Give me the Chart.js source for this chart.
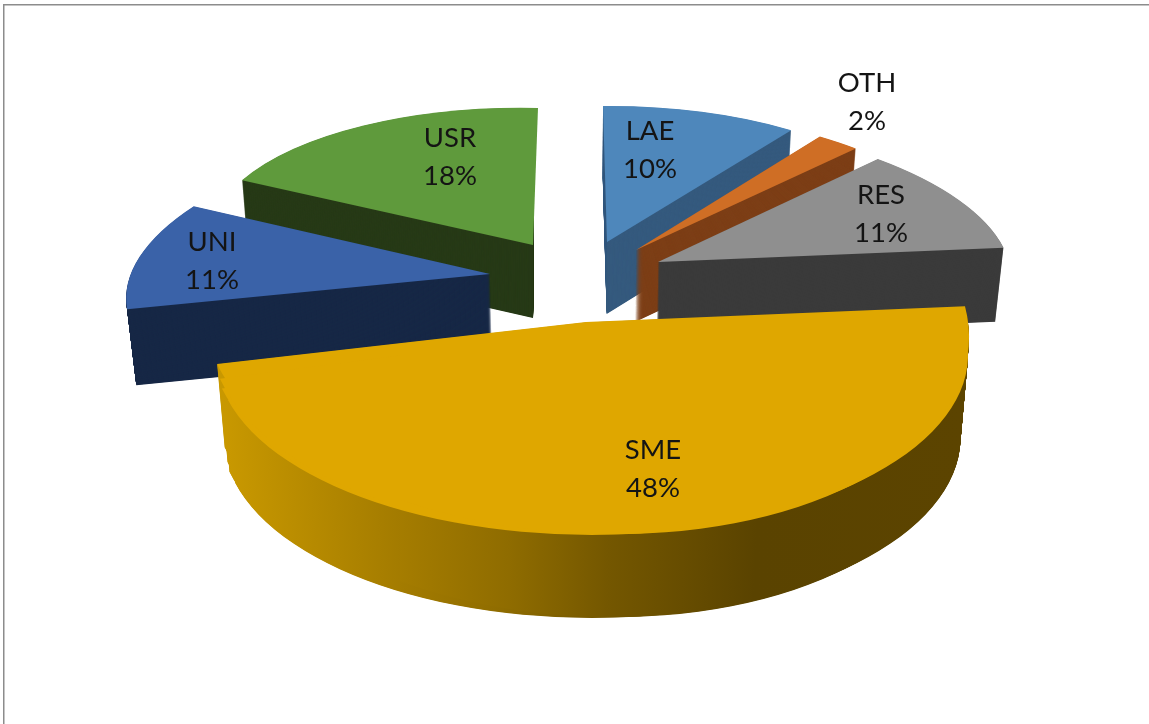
<!DOCTYPE html>
<html>
<head>
<meta charset="utf-8">
<title>Exploded 3D pie</title>
<style>
html,body{margin:0;padding:0;background:#fff;overflow:hidden}
canvas{display:block}
</style>
<script src="https://cdn.jsdelivr.net/npm/chart.js@4/dist/chart.umd.min.js"></script>
</head>
<body>
<canvas id="c" width="1149" height="724"></canvas>
<script>
// --- data
const categories = ['LAE', 'OTH', 'RES', 'SME', 'UNI', 'USR'];
const shares = [10, 2, 11, 48, 11, 18];

// --- colours
const faceColors = ['#4e87bb', '#cf6e25', '#8f8f8f', '#dfa700', '#3a62a8', '#5f9a3c'];
const wallColors = ['#355a7e', '#7d3f17', '#3b3b3b', null, '#172846', '#273a17'];
const smeWallStops = [[222, '#c89800'], [400, '#a37b00'], [500, '#8f6c00'], [600, '#745700'], [750, '#5a4300'], [968, '#5c4400']];

// --- view: how each slice's flat circle projects to the tilted 3D picture
// each slice has one or more projections: [pivotX, pivotY, uX, uY, vX, vY, wallDepth, optional max x]
const sliceViews = [
  [[607, 242, 319, -3, 4, 136, 72]],
  [[636, 250, 350, 5, 27, 144, 72]],
  [[658, 262, 352, 4, 29, 145, 74]],
  [[592, 355, 376, 0, 0, 180, 83],
   [586, 322, 383, 11, 8, 212, 83],
   [589, 340, 379, 0, 0, 195, 83, 400],
   [588, 331, 380, 3, 0, 204, 83, 400]],
  [[490, 274, 358, 3, -65, 153, 76]],
  [[533, 245, 324, 7, -5, 137, 73]]
];
const paintOrder = [5, 4, 0, 1, 2, 3];
const vanishX = [590, 590, 590, 592, 590, 533];
const wallClipRight = [null, null, null, null, null, 534];
const wallShrink = 0.02;

// --- label layout: [centre x, first line y, second line y]
const labelLayout = [
  [650, 131, 169],
  [867, 83, 121],
  [881, 195, 233],
  [653, 450, 488],
  [212, 242, 280],
  [450, 138, 176]
];
const labelFont = '27.5px Lato, "Open Sans", sans-serif';

function applyView(ctx, el, v) {
  const R = el.outerRadius;
  ctx.translate(v[0], v[1]);
  ctx.transform(v[2] / R, v[3] / R, v[4] / R, v[5] / R, 0, 0);
  ctx.translate(-el.x, -el.y);
}
function paintArc(ctx, el, fill) {
  const clone = Object.create(el);
  clone.options = {
    backgroundColor: fill, borderColor: 'transparent', borderWidth: 0,
    offset: 0, spacing: 0, circular: true, borderAlign: 'center', borderRadius: 0
  };
  clone.draw(ctx);
}
function wallFill(ctx, el, v, i) {
  if (wallColors[i]) return wallColors[i];
  const a = smeWallStops[0][0], b = smeWallStops[smeWallStops.length - 1][0];
  const toLocal = X => el.x + (X - v[0]) * el.outerRadius / v[2];
  const g = ctx.createLinearGradient(toLocal(a), 0, toLocal(b), 0);
  smeWallStops.forEach(s => g.addColorStop((s[0] - a) / (b - a), s[1]));
  return g;
}
function clipToX(ctx, chart, maxX) {
  if (maxX === undefined || maxX === null) return;
  ctx.beginPath();
  ctx.rect(0, 0, maxX, chart.height);
  ctx.clip();
}

const pie3d = {
  id: 'pie3d',
  beforeDraw(chart) {
    const ctx = chart.ctx;
    ctx.save();
    ctx.fillStyle = '#ffffff';
    ctx.fillRect(0, 0, chart.width, chart.height);
    ctx.fillStyle = '#8c8c8c';
    ctx.fillRect(3, 4, chart.width - 3, 1.5);
    ctx.fillRect(3, 4, 1.5, chart.height - 4);
    ctx.restore();
  },
  beforeDatasetDraw() { return false; },
  afterDatasetsDraw(chart) {
    const ctx = chart.ctx;
    const arcs = chart.getDatasetMeta(0).data;
    paintOrder.forEach(i => {
      const el = arcs[i];
      sliceViews[i].forEach(v => {
        const depth = v[6], wall = wallFill(ctx, el, v, i);
        ctx.save();
        clipToX(ctx, chart, wallClipRight[i]);
        clipToX(ctx, chart, v[7]);
        for (let d = depth; d > 0; d -= 0.5) {
          const t = d / depth;
          ctx.save();
          ctx.translate(vanishX[i], d);
          ctx.scale(1 - wallShrink * t, 1);
          ctx.translate(-vanishX[i], 0);
          applyView(ctx, el, v);
          paintArc(ctx, el, wall);
          ctx.restore();
        }
        ctx.restore();
      });
      sliceViews[i].forEach(v => {
        ctx.save();
        clipToX(ctx, chart, v[7]);
        applyView(ctx, el, v);
        paintArc(ctx, el, faceColors[i]);
        ctx.restore();
      });
    });
    ctx.save();
    ctx.font = labelFont;
    ctx.fillStyle = '#141414';
    ctx.textAlign = 'center';
    ctx.textBaseline = 'middle';
    categories.forEach((name, i) => {
      const l = labelLayout[i];
      ctx.fillText(name, l[0], l[1]);
      ctx.fillText(shares[i] + '%', l[0], l[2]);
    });
    ctx.restore();
  }
};

new Chart(document.getElementById('c'), {
  type: 'pie',
  data: {
    labels: categories,
    datasets: [{ data: shares, backgroundColor: faceColors, borderWidth: 0 }]
  },
  options: {
    responsive: false,
    animation: false,
    rotation: 0,
    events: [],
    plugins: { legend: { display: false }, tooltip: { enabled: false } }
  },
  plugins: [pie3d]
});
</script>
</body>
</html>
